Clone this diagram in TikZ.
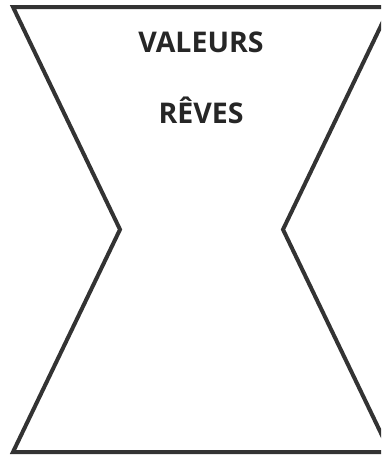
\documentclass[tikz,border=0pt]{standalone}
\usepackage{fontspec}
\setmainfont{Open Sans}
\begin{document}
\begin{tikzpicture}[x=1pt,y=-1pt,
  outline/.style={draw=black!80,line width=4pt,line join=miter},
  label/.style={font=\fontsize{28.5}{32}\selectfont\bfseries,text=black!85,inner sep=0pt,anchor=base}]
\useasboundingbox (0,0) rectangle (381,455);
\clip (0,0) rectangle (381,455);
\draw[outline] (13,7) -- (390,7) -- (283,229.5) -- (390,452) -- (13,452) -- (120,229.5) -- cycle;
\node[label] (v) at (201,52.5) {VALEURS};
\node[label] (r) at (201,123.5) {RÊVES};
\end{tikzpicture}
\end{document}
